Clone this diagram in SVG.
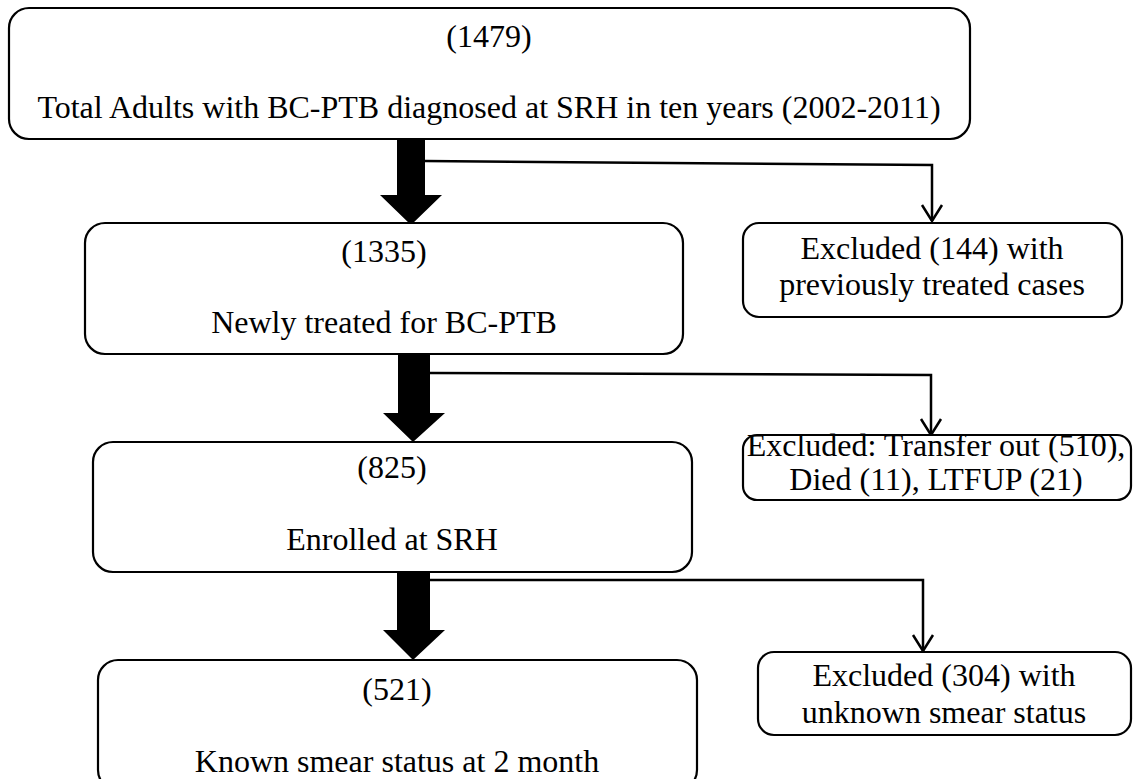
<svg xmlns="http://www.w3.org/2000/svg" width="1133" height="779" viewBox="0 0 1133 779">
<defs>
<style>
.box{fill:#fff;stroke:#000;stroke-width:2.2}
.t{font-family:"Liberation Serif","Times New Roman",serif;font-size:32px;fill:#000;text-anchor:middle}
.thin{fill:none;stroke:#000;stroke-width:2.5}
.big{fill:#000;stroke:none}
</style>
<marker id="open" markerWidth="20" markerHeight="24" viewBox="0 0 20 24" refX="18" refY="12" orient="auto" markerUnits="userSpaceOnUse">
<path d="M2,2 L18,12 L2,22" fill="none" stroke="#000" stroke-width="2.5"/>
</marker>
</defs>
<g id="connectors">
<path class="big" d="M397,139 H425 V195 H442 L411,225 L380,195 H397 Z"/>
<path class="thin" d="M425,161 L932,165 V221" marker-end="url(#open)"/>
<path class="big" d="M398,354 H430 V413 H445 L413,442 L383,413 H398 Z"/>
<path class="thin" d="M430,373 L931,375 V435" marker-end="url(#open)"/>
<path class="big" d="M397,572 H430 V630 H445 L413,660 L383,630 H397 Z"/>
<path class="thin" d="M430,580 L923,580 V651" marker-end="url(#open)"/>
</g>
<g id="n1479">
<rect class="box" x="9" y="8" width="961" height="131" rx="20"/>
<text class="t" x="489" y="47">(1479)</text>
<text class="t" x="489" y="118">Total Adults with BC-PTB diagnosed at SRH in ten years (2002-2011)</text>
</g>
<g id="n1335">
<rect class="box" x="85" y="223" width="598" height="131" rx="20"/>
<text class="t" x="384" y="262">(1335)</text>
<text class="t" x="384" y="333">Newly treated for BC-PTB</text>
</g>
<g id="n144">
<rect class="box" x="743" y="223" width="379" height="94" rx="16"/>
<text class="t" x="932" y="259">Excluded (144) with</text>
<text class="t" x="932" y="295">previously treated cases</text>
</g>
<g id="n825">
<rect class="box" x="93" y="442" width="599" height="130" rx="20"/>
<text class="t" x="392" y="478">(825)</text>
<text class="t" x="392" y="550">Enrolled at SRH</text>
</g>
<g id="n510">
<rect class="box" x="743" y="435" width="388" height="65" rx="14"/>
<text class="t" x="936" y="456">Excluded: Transfer out (510),</text>
<text class="t" x="936" y="490">Died (11), LTFUP (21)</text>
</g>
<g id="n521">
<rect class="box" x="98" y="660" width="599" height="130" rx="20"/>
<text class="t" x="397" y="700">(521)</text>
<text class="t" x="397" y="772">Known smear status at 2 month</text>
</g>
<g id="n304">
<rect class="box" x="758" y="652" width="373" height="83" rx="16"/>
<text class="t" x="944" y="686">Excluded (304) with</text>
<text class="t" x="944" y="723">unknown smear status</text>
</g>
</svg>
